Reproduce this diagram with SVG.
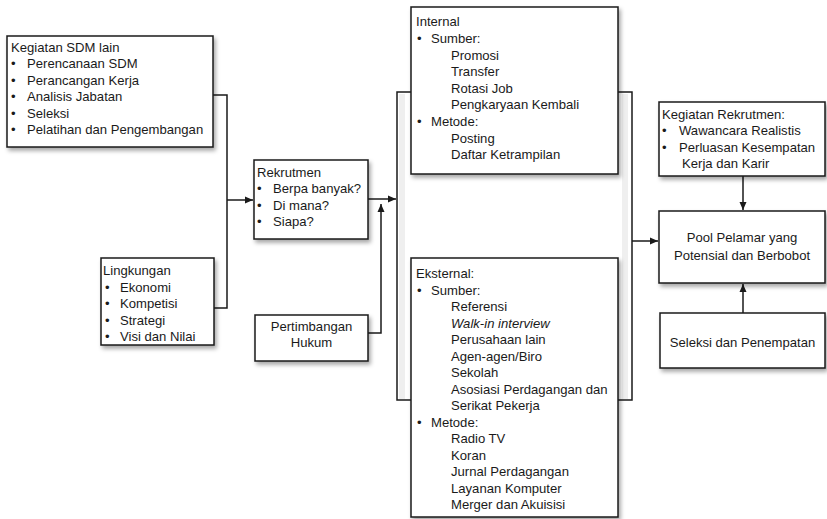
<svg xmlns="http://www.w3.org/2000/svg" width="827" height="519" viewBox="0 0 827 519">
<defs>
<filter id="sh" x="-10%" y="-10%" width="125%" height="130%">
<feDropShadow dx="2" dy="3" stdDeviation="2" flood-color="#000" flood-opacity="0.35"/>
</filter>
<marker id="ar" markerWidth="8" markerHeight="8" refX="8" refY="4" orient="auto" markerUnits="userSpaceOnUse">
<path d="M0,0.5 L8,4 L0,7.5 z" fill="#1a1a1a"/>
</marker>
</defs>
<style>
.box{fill:#fff;stroke:#1a1a1a;stroke-width:1.5;filter:url(#sh)}
text{font-family:"Liberation Sans",Arial,sans-serif;font-size:13.1px;fill:#1a1a1a}
.c{text-anchor:middle}
.ln{fill:none;stroke:#1a1a1a;stroke-width:1.5}
.ar{marker-end:url(#ar)}
</style>
<rect width="827" height="519" fill="#fff"/>
<g id="bracket-shadow" fill="#efefef">
<rect x="399" y="94" width="6" height="305"/>
<rect x="622" y="94" width="6" height="305"/>
</g>
<g id="connectors">
<path class="ln" d="M213,95 H227 V308 H214"/>
<path class="ln ar" d="M227,200 H253"/>
<path class="ln ar" d="M368,199 H396"/>
<path class="ln ar" d="M368,333 H381 V204"/>
<path class="ln" d="M411,92 H397 V400 H411"/>
<path class="ln" d="M618,92 H632 V400 H618"/>
<path class="ln ar" d="M632,241 H658"/>
<path class="ln ar" d="M743,176 V210"/>
<path class="ln ar" d="M743,313 V284"/>
</g>
<g id="kegiatan-sdm">
<rect class="box" x="7" y="36" width="206" height="111"/>
<text x="11" y="51.5">Kegiatan SDM lain</text>
<text x="11" y="68">•</text><text x="27" y="68">Perencanaan SDM</text>
<text x="11" y="84.6">•</text><text x="27" y="84.6">Perancangan Kerja</text>
<text x="11" y="101.2">•</text><text x="27" y="101.2">Analisis Jabatan</text>
<text x="11" y="117.8">•</text><text x="27" y="117.8">Seleksi</text>
<text x="11" y="134.4">•</text><text x="27" y="134.4">Pelatihan dan Pengembangan</text>
</g>
<g id="lingkungan">
<rect class="box" x="101" y="258" width="113" height="87"/>
<text x="103" y="275">Lingkungan</text>
<text x="105" y="291.5">•</text><text x="120" y="291.5">Ekonomi</text>
<text x="105" y="308">•</text><text x="120" y="308">Kompetisi</text>
<text x="105" y="324.5">•</text><text x="120" y="324.5">Strategi</text>
<text x="105" y="341">•</text><text x="120" y="341">Visi dan Nilai</text>
</g>
<g id="rekrutmen">
<rect class="box" x="254" y="160" width="114" height="79"/>
<text x="257" y="176.5">Rekrutmen</text>
<text x="257" y="193">•</text><text x="273" y="193">Berpa banyak?</text>
<text x="257" y="209.5">•</text><text x="273" y="209.5">Di mana?</text>
<text x="257" y="226">•</text><text x="273" y="226">Siapa?</text>
</g>
<g id="pertimbangan">
<rect class="box" x="255" y="315" width="113" height="46"/>
<text class="c" x="311.5" y="331">Pertimbangan</text>
<text class="c" x="311.5" y="347">Hukum</text>
</g>
<g id="internal">
<rect class="box" x="411" y="7" width="207" height="167"/>
<text x="416" y="26.4">Internal</text>
<text x="417" y="43">•</text><text x="431" y="43">Sumber:</text>
<text x="451" y="59.6">Promosi</text>
<text x="451" y="76.2">Transfer</text>
<text x="451" y="92.8">Rotasi Job</text>
<text x="451" y="109.4">Pengkaryaan Kembali</text>
<text x="417" y="126">•</text><text x="431" y="126">Metode:</text>
<text x="451" y="142.6">Posting</text>
<text x="451" y="159.2">Daftar Ketrampilan</text>
</g>
<g id="eksternal">
<rect class="box" x="411" y="258" width="207" height="259"/>
<text x="416" y="278">Eksternal:</text>
<text x="417" y="294.5">•</text><text x="431" y="294.5">Sumber:</text>
<text x="451" y="311">Referensi</text>
<text x="451" y="327.5" font-style="italic">Walk-in interview</text>
<text x="451" y="344">Perusahaan lain</text>
<text x="451" y="360.5">Agen-agen/Biro</text>
<text x="451" y="377">Sekolah</text>
<text x="451" y="393.5">Asosiasi Perdagangan dan</text>
<text x="451" y="410">Serikat Pekerja</text>
<text x="417" y="426.5">•</text><text x="431" y="426.5">Metode:</text>
<text x="451" y="443">Radio TV</text>
<text x="451" y="459.5">Koran</text>
<text x="451" y="476">Jurnal Perdagangan</text>
<text x="451" y="492.5">Layanan Komputer</text>
<text x="451" y="509">Merger dan Akuisisi</text>
</g>
<g id="kegiatan-rekrutmen">
<rect class="box" x="659" y="102" width="166" height="74"/>
<text x="662" y="118.5">Kegiatan Rekrutmen:</text>
<text x="662" y="135">•</text><text x="679" y="135">Wawancara Realistis</text>
<text x="662" y="151.5">•</text><text x="679" y="151.5">Perluasan Kesempatan</text>
<text x="682" y="168">Kerja dan Karir</text>
</g>
<g id="pool">
<rect class="box" x="659" y="211" width="166" height="72"/>
<text class="c" x="742" y="242">Pool Pelamar yang</text>
<text class="c" x="742" y="260">Potensial dan Berbobot</text>
</g>
<g id="seleksi">
<rect class="box" x="660" y="313" width="165" height="55"/>
<text class="c" x="742.5" y="346.5">Seleksi dan Penempatan</text>
</g>
</svg>
